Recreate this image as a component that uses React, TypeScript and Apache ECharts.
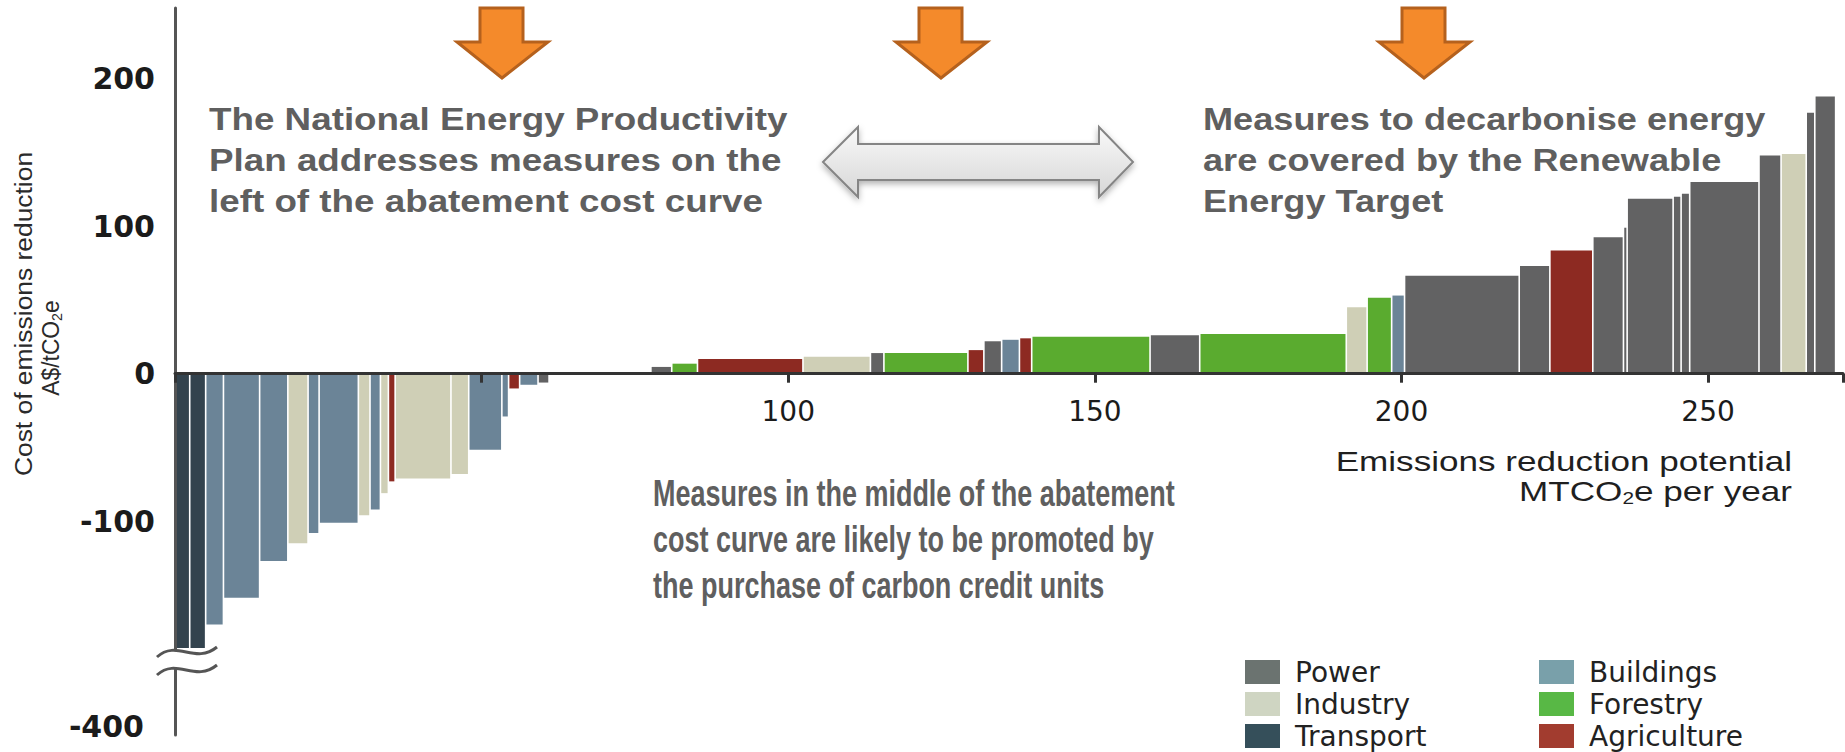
import { useEffect, useRef } from 'react';
import * as echarts from 'echarts';

// ---------- data ----------
const SECTOR_CODES = ['P', 'I', 'T', 'B', 'F', 'A'];
const SECTORS = ['Power', 'Industry', 'Transport', 'Buildings', 'Forestry', 'Agriculture'];
const SECTOR_BAR_COLORS = ['#626263', '#cfcfb6', '#33434e', '#6b8497', '#5aab2f', '#8d2a22'];
const SECTOR_LEGEND_COLORS = ['#6b7370', '#cfd5c2', '#354f5a', '#79a0aa', '#58b845', '#a23c2f'];

// measures in order along the abatement cost curve
const measureWidths = [
  2.4, 2.6, 2.9, 5.9, 4.6, 3.3, 1.8, 6.4, 1.9, 1.7,
  1.3, 1.1, 9.1, 2.9, 5.4, 1.1, 1.8, 3.0, 1.8, 5.7,
  10.9, 3.4, 4.2, 17.2, 11.0, 2.2, 13.7, 2.6, 2.9, 2.9,
  2.0, 19.3, 8.1, 23.9, 3.4, 4.0, 2.1, 18.7, 5.0, 7.0,
  5.0, 0.6, 7.5, 1.3, 1.4, 11.3, 3.6, 4.1, 1.4, 3.4,
];
const measureCosts = [
  -400, -400, -170, -152, -127, -115, -108, -101, -96, -92,
  -81, -73, -71, -68, -51.5, -29, -10, -7.5, -6, -0.5,
  1, 4.6, 6.8, 10, 11.5, 14, 14, 16, 22, 23,
  24, 25, 26, 27, 45, 51.5, 53, 66.4, 73, 83.5,
  92.6, 99, 118.6, 120, 122, 130, 148, 149, 177, 188,
];
const measureSectors = [
  'T', 'T', 'B', 'B', 'B', 'I', 'B', 'B', 'I', 'B',
  'I', 'A', 'I', 'I', 'B', 'B', 'A', 'B', 'P', 'B',
  'P', 'P', 'F', 'A', 'I', 'P', 'F', 'A', 'P', 'B',
  'A', 'F', 'P', 'F', 'I', 'F', 'B', 'P', 'P', 'A',
  'P', 'P', 'P', 'P', 'P', 'P', 'P', 'I', 'P', 'P',
];

const X_LABELS = [100, 150, 200, 250];
const Y_TICKS = [200, 100, 0, -100];
const Y_MIN = -245;
const Y_MAX = 248;
const Y_BREAK_FROM = -186;      // the axis is broken below this value
const Y_BREAK_LABEL = '-400';   // label shown below the break
const Y_BREAK_LABEL_POS = -239; // where that label sits on the broken axis

const ANNOTATION_LEFT = [
  'The National Energy Productivity',
  'Plan addresses measures on the',
  'left of the abatement cost curve',
];
const ANNOTATION_RIGHT = [
  'Measures to decarbonise energy',
  'are covered by the Renewable',
  'Energy Target',
];
const ANNOTATION_MIDDLE = [
  'Measures in the middle of the abatement',
  'cost curve are likely to be promoted by',
  'the purchase of carbon credit units',
];

const ARROW_CENTERS = [502, 941, 1424];

export default function App() {
  const ref = useRef<HTMLDivElement>(null);

  useEffect(() => {
    if (!ref.current) return;
    const chart = echarts.init(ref.current, null, { renderer: 'svg' });

    const starts: number[] = [];
    let cum = 0;
    measureWidths.forEach((w) => {
      starts.push(cum);
      cum += w;
    });

    const renderItem = (params: any, api: any) => {
      const x0 = api.value(0);
      const x1 = api.value(1);
      const c = api.value(2);
      const shown = Math.max(c, Y_BREAK_FROM);
      const a = api.coord([x0, shown]);
      const b = api.coord([x1, 0]);
      const left = a[0] + 0.8;
      const right = b[0] - 0.8;
      return {
        type: 'rect',
        shape: {
          x: left,
          y: Math.min(a[1], b[1]),
          width: Math.max(right - left, 0.8),
          height: Math.abs(b[1] - a[1]),
        },
        style: { fill: api.visual('color') },
      };
    };

    const series = SECTORS.map((name, si) => ({
      type: 'custom',
      name,
      renderItem,
      encode: { x: [0, 1], y: 2 },
      itemStyle: { color: SECTOR_BAR_COLORS[si] },
      z: 2,
      data: measureWidths
        .map((w, i) => [starts[i], starts[i] + w, measureCosts[i], i])
        .filter((_, i) => measureSectors[i] === SECTOR_CODES[si]),
    }));

    const legendBase = {
      orient: 'vertical',
      top: 658,
      height: 130,
      padding: 0,
      itemWidth: 35,
      itemHeight: 24,
      itemGap: 4,
      icon: 'rect',
      align: 'left',
      selectedMode: false,
      textStyle: {
        fontSize: 28,
        lineHeight: 24,
        color: '#222',
        fontFamily: 'DejaVu Sans',
        padding: [0, 0, 0, 10],
      },
    };

    chart.setOption({
      animation: false,
      backgroundColor: '#ffffff',
      grid: { left: 175, right: 2, top: 8, bottom: 17, containLabel: false, outerBoundsMode: 'none' },
      xAxis: {
        type: 'value',
        min: 0,
        max: 272,
        interval: 50,
        z: 5,
        position: 'bottom',
        axisLine: { onZero: false, lineStyle: { color: '#333', width: 3 } },
        axisTick: { show: true, length: 9, lineStyle: { color: '#333', width: 3 } },
        splitLine: { show: false },
        axisLabel: {
          formatter: (v: number) => (X_LABELS.includes(v) ? String(v) : ''),
          fontSize: 28,
          color: '#1b1b1b',
          fontFamily: 'DejaVu Sans',
          margin: 24,
        },
      },
      yAxis: {
        type: 'value',
        min: Y_MIN,
        max: Y_MAX,
        z: 5,
        axisLine: { show: true, onZero: false, lineStyle: { color: '#555', width: 3 } },
        axisTick: { show: false },
        splitLine: { show: false },
        axisLabel: {
          customValues: [...Y_TICKS, Y_BREAK_LABEL_POS],
          formatter: (v: number) =>
            Math.abs(v - Y_BREAK_LABEL_POS) < 0.5 ? '{b|' + Y_BREAK_LABEL + '}' : String(v),
          fontSize: 30,
          fontWeight: 'bold',
          color: '#1b1b1b',
          fontFamily: 'DejaVu Sans',
          margin: 20,
          rich: {
            b: {
              fontSize: 30,
              fontWeight: 'bold',
              color: '#1b1b1b',
              fontFamily: 'DejaVu Sans',
              padding: [0, 11, 0, 0],
            },
          },
        },
      },
      legend: [
        {
          ...legendBase,
          left: 1245,
          data: SECTORS.slice(0, 3).map((n, i) => ({ name: n, itemStyle: { color: SECTOR_LEGEND_COLORS[i] } })),
        },
        {
          ...legendBase,
          left: 1539,
          data: SECTORS.slice(3).map((n, i) => ({ name: n, itemStyle: { color: SECTOR_LEGEND_COLORS[i + 3] } })),
        },
      ],
      series,
    });

    // put the x axis on the zero line
    const zeroY = chart.convertToPixel({ yAxisIndex: 0 }, 0) as number;
    const bottomY = chart.convertToPixel({ yAxisIndex: 0 }, Y_MIN) as number;

    const bp = chart.convertToPixel({ gridIndex: 0 }, [0, Y_BREAK_FROM]) as number[];
    const ax = bp[0];
    const cy = bp[1] + 13;

    const graphics: any[] = [];

    // orange down arrows
    ARROW_CENTERS.forEach((cx) => {
      graphics.push({
        type: 'polygon',
        z: 50,
        shape: {
          points: [
            [cx - 22, 8], [cx + 21, 8], [cx + 21, 42], [cx + 46, 42],
            [cx, 78], [cx - 45, 42], [cx - 22, 42],
          ],
        },
        style: { fill: '#f48a2b', stroke: '#b5611d', lineWidth: 3, lineJoin: 'miter' },
      });
    });

    // double arrow
    graphics.push({
      type: 'polygon',
      z: 50,
      shape: {
        points: [
          [823, 162], [858, 127], [858, 144], [1099, 144], [1099, 127],
          [1133, 162], [1099, 197], [1099, 180], [858, 180], [858, 197],
        ],
      },
      style: {
        fill: new echarts.graphic.LinearGradient(0, 0, 0, 1, [
          { offset: 0, color: '#f9f9f9' },
          { offset: 1, color: '#d6d6d6' },
        ]),
        stroke: '#858585',
        lineWidth: 2,
        shadowBlur: 6,
        shadowColor: 'rgba(0,0,0,0.3)',
        shadowOffsetY: 3,
      },
    });

    const annot = (lines: string[], x: number, y: number, size: number, lh: number, sx: number) => ({
      type: 'text',
      z: 60,
      x,
      y,
      scaleX: sx,
      style: {
        text: lines.join('\n'),
        x: 0,
        y: 0,
        fill: '#5f5f5f',
        font: `bold ${size}px "Liberation Sans", Arial, sans-serif`,
        lineHeight: lh,
        align: 'left',
        verticalAlign: 'top',
      },
    });
    graphics.push(annot(ANNOTATION_LEFT, 209, 98, 32, 41, 1.15));
    graphics.push(annot(ANNOTATION_RIGHT, 1203, 98, 32, 41, 1.13));
    graphics.push(annot(ANNOTATION_MIDDLE, 653, 471, 36, 46, 0.75));

    // axis titles
    graphics.push({
      type: 'text',
      z: 60,
      x: 23,
      y: 314,
      rotation: Math.PI / 2,
      scaleX: 1.1,
      style: {
        text: 'Cost of emissions reduction',
        fill: '#2a2a2a',
        font: '24px "Liberation Sans", Arial, sans-serif',
        align: 'center',
        verticalAlign: 'middle',
      },
    });
    graphics.push({
      type: 'text',
      z: 60,
      x: 51,
      y: 348,
      rotation: Math.PI / 2,
      scaleX: 0.95,
      style: {
        text: 'A$/tCO{s|2}e',
        fill: '#2a2a2a',
        font: '24px "Liberation Sans", Arial, sans-serif',
        align: 'center',
        verticalAlign: 'middle',
        rich: { s: { fontSize: 15, fill: '#2a2a2a', padding: [11, 0, 0, 0] } },
      },
    });
    graphics.push({
      type: 'text',
      z: 60,
      x: 1792,
      y: 462,
      scaleX: 1.3,
      style: {
        text: 'Emissions reduction potential',
        fill: '#1f1f1f',
        font: '27px "Liberation Sans", Arial, sans-serif',
        align: 'right',
        verticalAlign: 'middle',
      },
    });
    graphics.push({
      type: 'text',
      z: 60,
      x: 1792,
      y: 492,
      scaleX: 1.3,
      style: {
        text: 'MTCO{s|2}e per year',
        fill: '#1f1f1f',
        font: '27px "Liberation Sans", Arial, sans-serif',
        align: 'right',
        verticalAlign: 'middle',
        rich: { s: { fontSize: 16, fill: '#1f1f1f', padding: [12, 0, 0, 0] } },
      },
    });

    // axis break mark
    const curve = (dy: number) => ({
      x1: ax - 18, y1: cy + 5 + dy,
      cpx1: ax + 2, cpy1: cy - 13 + dy,
      cpx2: ax + 20, cpy2: cy + 13 + dy,
      x2: ax + 42, y2: cy - 5 + dy,
    });
    graphics.push({
      type: 'bezierCurve', z: 40, shape: curve(0),
      style: { stroke: '#ffffff', lineWidth: 18, fill: 'none' },
    });
    graphics.push({
      type: 'bezierCurve', z: 41, shape: curve(-9),
      style: { stroke: '#555', lineWidth: 3, fill: 'none' },
    });
    graphics.push({
      type: 'bezierCurve', z: 41, shape: curve(9),
      style: { stroke: '#555', lineWidth: 3, fill: 'none' },
    });

    chart.setOption({ xAxis: { offset: -(bottomY - zeroY) }, graphic: graphics });

    return () => chart.dispose();
  }, []);

  return (
    <div
      ref={ref}
      style={{ position: 'fixed', left: 0, top: 0, width: 1845, height: 752, background: '#fff' }}
    />
  );
}
